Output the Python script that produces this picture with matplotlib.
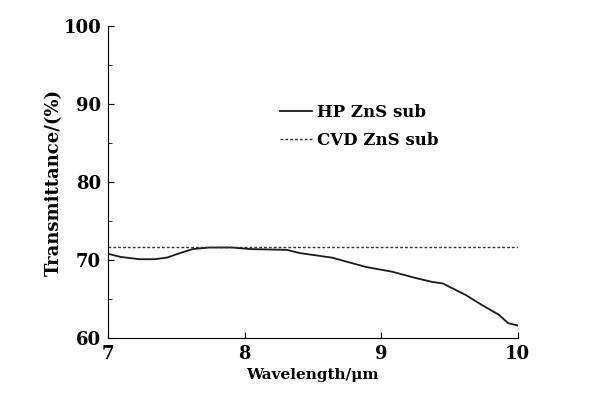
import matplotlib.pyplot as plt
from matplotlib.ticker import MultipleLocator

wl_hp = [7.0, 7.09, 7.23, 7.34, 7.43, 7.53, 7.62, 7.74, 7.91, 8.04, 8.31, 8.40, 8.64,
         8.89, 9.08, 9.25, 9.37, 9.45, 9.62, 9.74, 9.86, 9.93, 10.0]
t_hp = [70.8, 70.4, 70.1, 70.1, 70.3, 70.9, 71.4, 71.6, 71.6, 71.4, 71.3, 70.9, 70.3,
        69.1, 68.5, 67.7, 67.2, 67.0, 65.5, 64.2, 63.0, 61.9, 61.6]
wl_cvd = [7.0, 10.0]
t_cvd = [71.7, 71.7]

plt.rcParams['font.family'] = ['DejaVu Serif']
plt.rcParams['font.weight'] = 'bold'

fig = plt.figure(figsize=(6, 4), dpi=100)
ax = fig.add_axes([0.18, 0.155, 0.683, 0.78])

ax.plot(wl_hp, t_hp, color='#1a1a1a', lw=1.3, label='HP ZnS sub')
ax.plot(wl_cvd, t_cvd, color='#333333', lw=1.0, ls=(0, (2, 1.5)), label='CVD ZnS sub')

ax.set_xlim(7, 10)
ax.set_ylim(60, 100)
ax.set_xticks([7, 8, 9, 10])
ax.set_yticks([60, 70, 80, 90, 100])
ax.yaxis.set_minor_locator(MultipleLocator(5))
ax.tick_params(direction='in', length=4, labelsize=13, pad=5)
ax.tick_params(which='minor', direction='in', length=3)
ax.spines['top'].set_visible(False)
ax.spines['right'].set_visible(False)

ax.set_xlabel('Wavelength/μm', fontsize=11, fontweight='bold', labelpad=4)
ax.set_ylabel('Transmittance/(%)', fontsize=13, fontweight='bold', labelpad=0)

ax.legend(loc='upper left', bbox_to_anchor=(0.42, 0.75), frameon=False,
          borderaxespad=0, borderpad=0, fontsize=12, handlelength=1.9,
          handletextpad=0.3, labelspacing=0.65)

fig.savefig('out.png')
